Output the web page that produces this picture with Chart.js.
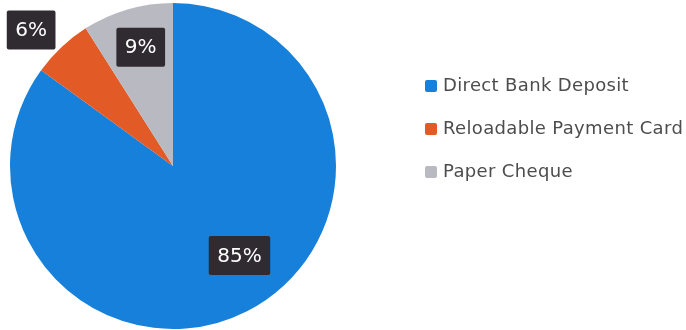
<!DOCTYPE html>
<html>
<head>
<meta charset="utf-8">
<script src="https://cdn.jsdelivr.net/npm/chart.js@4/dist/chart.umd.min.js"></script>
<style>
  html, body { margin: 0; padding: 0; background: #ffffff; }
  #wrap { width: 686px; height: 330px; position: relative; }
</style>
</head>
<body>
<div id="wrap"><canvas id="c" width="686" height="330"></canvas></div>
<script>
// Payment method shares (percent)
const categories = ['Direct Bank Deposit', 'Reloadable Payment Card', 'Paper Cheque'];
const shares = [85, 6, 9];
const sliceColors = ['#1680da', '#e25a26', '#b9b9c1'];

// Where each percentage tag sits: fraction of the radius and a small turn (degrees)
// away from the slice's middle angle. The thin card slice gets its tag outside.
const tagPlacement = [
  { radius: 0.684, turn: -9.6 },
  { radius: 1.206, turn: -3.0 },
  { radius: 0.755, turn: 1.0 }
];

const valueTags = {
  id: 'valueTags',
  afterDatasetsDraw(chart) {
    const ctx = chart.ctx;
    const meta = chart.getDatasetMeta(0);
    ctx.save();
    ctx.font = '20px "DejaVu Sans", sans-serif';
    ctx.textAlign = 'center';
    ctx.textBaseline = 'middle';
    meta.data.forEach((arc, i) => {
      const p = arc.getProps(['x', 'y', 'startAngle', 'endAngle', 'outerRadius'], true);
      const place = tagPlacement[i];
      const ang = (p.startAngle + p.endAngle) / 2 + place.turn * Math.PI / 180;
      const r = p.outerRadius * place.radius;
      const cx = p.x + Math.cos(ang) * r;
      const cy = p.y + Math.sin(ang) * r;
      const text = shares[i] + '%';
      const w = ctx.measureText(text).width + 17;
      const h = 39;
      ctx.fillStyle = '#2f2b31';
      ctx.beginPath();
      ctx.roundRect(cx - w / 2, cy - h / 2, w, h, 2);
      ctx.fill();
      ctx.fillStyle = '#ffffff';
      ctx.fillText(text, cx, cy + 1);
    });
    ctx.restore();
  }
};

// Legend list beside the pie
const sideLegend = {
  id: 'sideLegend',
  afterDraw(chart) {
    const ctx = chart.ctx;
    const colors = chart.data.datasets[0].backgroundColor;
    ctx.save();
    ctx.font = '18px "DejaVu Sans", sans-serif';
    ctx.letterSpacing = '0.35px';
    ctx.textBaseline = 'middle';
    ctx.textAlign = 'left';
    const x0 = 425, y0 = 86, step = 43;
    chart.data.labels.forEach((lab, i) => {
      const y = y0 + i * step;
      ctx.fillStyle = colors[i];
      ctx.beginPath();
      ctx.roundRect(x0, y - 6, 12, 12, 2);
      ctx.fill();
      ctx.fillStyle = '#4d4d4d';
      ctx.fillText(lab, x0 + 18, y);
    });
    ctx.restore();
  }
};

new Chart(document.getElementById('c'), {
  type: 'pie',
  data: {
    labels: categories,
    datasets: [{
      data: shares,
      backgroundColor: sliceColors,
      borderWidth: 0
    }]
  },
  options: {
    responsive: false,
    animation: false,
    layout: { padding: { left: 10, top: 3, right: 350, bottom: 1 } },
    plugins: {
      legend: { display: false },
      tooltip: { enabled: false }
    }
  },
  plugins: [valueTags, sideLegend]
});
</script>
</body>
</html>
